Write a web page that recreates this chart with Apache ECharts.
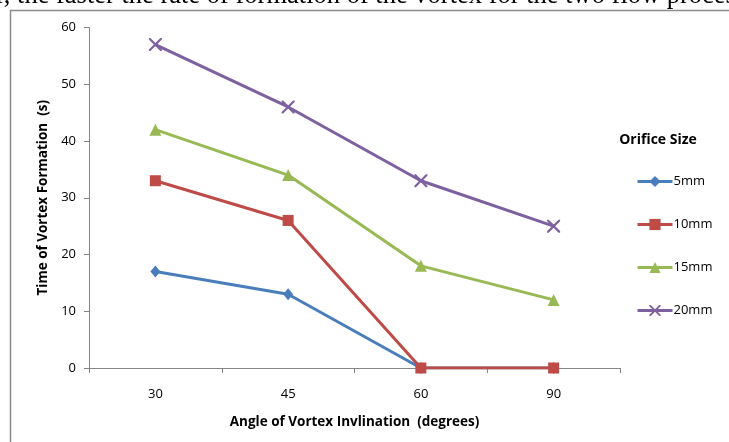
<!DOCTYPE html>
<html><head><meta charset="utf-8">
<script src="https://cdn.jsdelivr.net/npm/echarts@6/dist/echarts.min.js"></script>
<style>html,body{margin:0;padding:0;background:#fff;}#c{width:729px;height:442px;}</style>
</head><body><div id="c"></div>
<script>
const categories = ['30', '45', '60', '90'];
const s5mm = [17, 13, 0, 0];
const s10mm = [33, 26, 0, 0];
const s15mm = [42, 34, 18, 12];
const s20mm = [57, 46, 33, 25];
const seriesNames = ['5mm', '10mm', '15mm', '20mm'];
const yTicks = { min: 0, max: 60, interval: 10 };

const xPath = 'path://M0,0 L1.2,0 L5,3.8 L8.8,0 L10,0 L10,1.2 L6.2,5 L10,8.8 L10,10 L8.8,10 L5,6.2 L1.2,10 L0,10 L0,8.8 L3.8,5 L0,1.2 Z';
const colors = ['#4A7EBB', '#BE4B48', '#98B954', '#7D60A0'];
const symbols = ['diamond', 'rect', 'triangle', xPath];
const sizes = [[10, 12], 11, 12, 13];
const dataArr = [s5mm, s10mm, s15mm, s20mm];
const axisColor = '#868686';
const ff = '"Open Sans", sans-serif';

const chart = echarts.init(document.getElementById('c'), null, { renderer: 'canvas' });
chart.setOption({
  animation: false,
  backgroundColor: '#fff',
  graphic: [
    { type: 'rect', shape: { x: 10.5, y: 10.5, width: 740, height: 450 }, style: { fill: 'none', stroke: '#8c8c8c', lineWidth: 1.5 }, z: -10 },
    { type: 'text', x: -4, y: 10, style: { text: 'r, the faster the rate of formation of the vortex for the two flow processes', font: '26.5px "Liberation Serif", serif', fill: '#000', verticalAlign: 'bottom', align: 'left' } },
    { type: 'text', x: 658, y: 140, style: { text: 'Orifice Size', font: 'bold 14px ' + ff, fill: '#000', align: 'center', verticalAlign: 'middle' } }
  ],
  grid: { left: 89, right: 109, top: 27.5, bottom: 74, containLabel: false },
  legend: {
    orient: 'vertical', left: 631, top: 170, itemWidth: 35, itemHeight: 14, itemGap: 30,
    data: seriesNames,
    lineStyle: { width: 3 },
    textStyle: { fontSize: 13, color: '#000', fontFamily: ff, padding: [0, 0, 0, -4] }
  },
  xAxis: {
    type: 'category', data: categories, boundaryGap: true,
    name: 'Angle of Vortex Invlination  (degrees)', nameLocation: 'middle', nameGap: 47,
    nameTextStyle: { fontWeight: 'bold', fontSize: 13.5, color: '#000', fontFamily: ff },
    axisLine: { lineStyle: { color: axisColor } },
    axisTick: { show: true, inside: false, length: 5, interval: 0, lineStyle: { color: axisColor } },
    axisLabel: { fontSize: 13, color: '#000', margin: 20, fontFamily: ff },
    splitLine: { show: false }
  },
  yAxis: {
    type: 'value', min: yTicks.min, max: yTicks.max, interval: yTicks.interval,
    name: 'Time of Vortex Formation  (s)', nameLocation: 'middle', nameGap: 38, nameRotate: 90,
    nameTextStyle: { fontWeight: 'bold', fontSize: 13.5, color: '#000', fontFamily: ff },
    axisLine: { show: true, lineStyle: { color: axisColor } },
    axisTick: { show: true, inside: false, length: 5, lineStyle: { color: axisColor } },
    axisLabel: { fontSize: 13, color: '#000', margin: 13, fontFamily: ff },
    splitLine: { show: false }
  },
  series: seriesNames.map((n, i) => ({
    name: n, type: 'line', data: dataArr[i],
    symbol: symbols[i], symbolSize: sizes[i], showAllSymbol: true,
    lineStyle: { color: colors[i], width: 3 },
    itemStyle: { color: colors[i], borderWidth: 0 },
    z: 2 + i
  }))
});
</script></body></html>
